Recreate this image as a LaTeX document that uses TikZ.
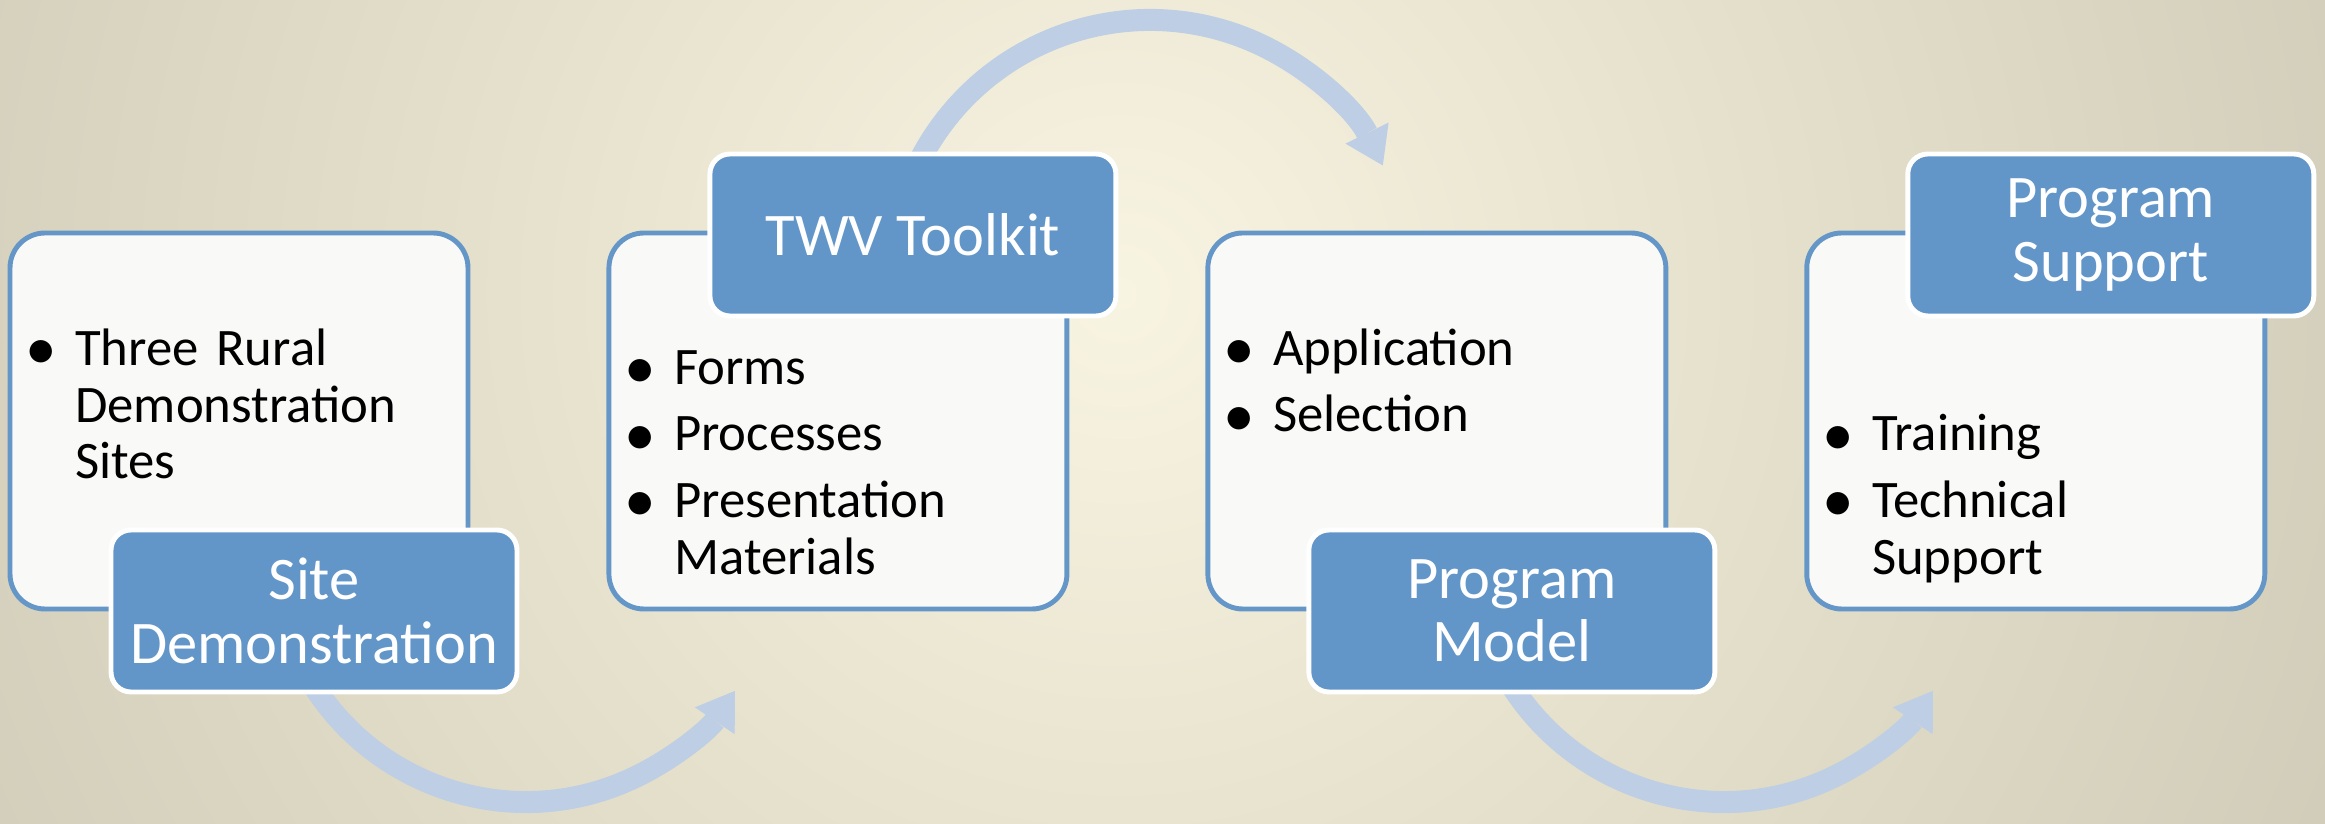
\documentclass[tikz,border=0pt]{standalone}
\usepackage{fontspec}
\setmainfont{Carlito}
\usetikzlibrary{calc,positioning,arrows.meta,shapes}
\definecolor{bgin}{HTML}{F8F4E2}
\definecolor{bgmid}{HTML}{E6E1CC}
\definecolor{bgout}{HTML}{AEAA9A}
\definecolor{frame}{HTML}{6596C8}
\definecolor{tagfill}{HTML}{6396C8}
\definecolor{panelfill}{HTML}{F9F9F7}
\definecolor{flowblue}{HTML}{BDCEE5}
\pgfdeclareradialshading{glow}{\pgfpoint{0bp}{0bp}}{color(0bp)=(bgin); color(11bp)=(bgmid); color(45bp)=(bgout); color(50bp)=(bgout)}
\tikzstyle{panel} = [rectangle, rounded corners=0.35cm, minimum width=4.58cm, minimum height=3.76cm, draw=frame, line width=1.4pt, fill=panelfill]
\tikzstyle{flow} = [line width=0.22cm, draw=flowblue, -{Triangle[width=0.48cm, length=0.36cm, line width=0pt]}]
\newcommand{\bitem}[1]{\noindent\makebox[0.5cm][l]{\raisebox{-0.08em}{\scalebox{1.2}{\textbullet}}}\parbox[t]{3.6cm}{\raggedright\strut#1\strut}\par}

\begin{document}
\begin{tikzpicture}
\tikzset{%
	tag/.style = {rectangle, rounded corners=0.2cm, fill=tagfill, draw=white, line width=1.4pt, minimum width=4.06cm, minimum height=1.62cm, text=white, align=center, inner sep=0pt, font=\fontsize{17.2}{18.1}\selectfont},
	list/.style = {text width=4.1cm, align=left, inner sep=0pt, font=\fontsize{15}{16.2}\selectfont\setlength{\parskip}{2.8pt}}
}
\useasboundingbox (0,0) rectangle (23.25,8.23);
\begin{scope}
\clip (0,0) rectangle (23.25,8.23);
\shade [shading=glow] (11.2,5.3) circle (14);
\end{scope}

\coordinate (a1) at (5.26,2.73);
\coordinate (a2) at (11.50,5.44);
\coordinate (a3) at (17.24,2.73);
\draw [flow] ($(a1)+(205:2.52)$) arc [start angle=205, end angle=326, radius=2.52];
\draw [flow] ($(a2)+(155:2.59)$) arc [start angle=155, end angle=26, radius=2.59];
\draw [flow] ($(a3)+(205:2.52)$) arc [start angle=205, end angle=326, radius=2.52];

\node(sd0) [panel] at (2.39,4.02) {};
\node(tk0) [panel, right=1.36cm of sd0] {};
\node(pm0) [panel, right=1.36cm of tk0] {};
\node(ps0) [panel, right=1.36cm of pm0] {};

\node(sd1) [tag, below right=0.83cm and 0.49cm of sd0.south east, anchor=south east] {Site\\Demonstration};
\node(tk1) [tag, above right=0.79cm and 0.49cm of tk0.north east, anchor=north east] {TWV Toolkit};
\node(pm1) [tag, below right=0.83cm and 0.49cm of pm0.south east, anchor=south east] {Program\\Model};
\node(ps1) [tag, above right=0.79cm and 0.49cm of ps0.north east, anchor=north east] {Program\\Support};

\node(sd2) [list, below right=0.94cm and 0.17cm of sd0.north west] {\bitem{Three Rural Demonstration Sites}};
\node(tk2) [list, above right=0.19cm and 0.17cm of tk0.south west] {\bitem{Forms}\bitem{Processes}\bitem{Presentation Materials}};
\node(pm2) [list, below right=0.94cm and 0.17cm of pm0.north west] {\bitem{Application}\bitem{Selection}};
\node(ps2) [list, above right=0.19cm and 0.17cm of ps0.south west] {\bitem{Training}\bitem{Technical Support}};
\end{tikzpicture}
\end{document}
